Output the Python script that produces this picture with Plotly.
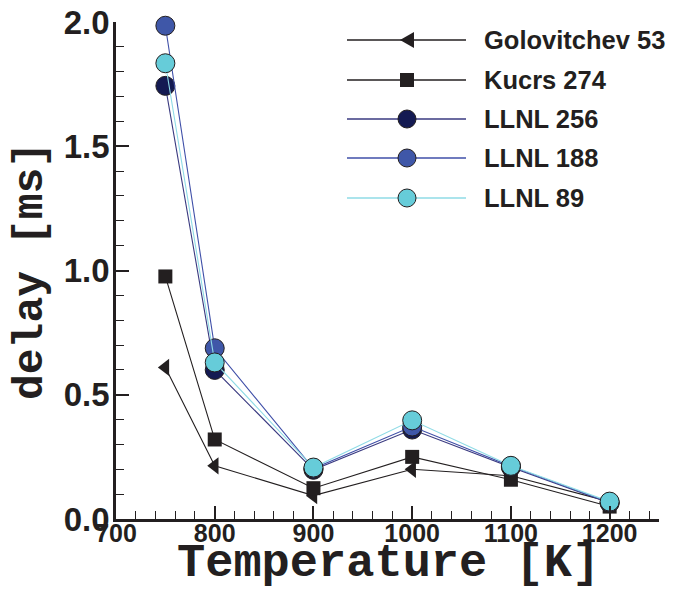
import plotly.graph_objects as go

temperature = [750, 800, 900, 1000, 1100, 1200]
golovitchev_53 = [0.61, 0.214, 0.094, 0.20, 0.174, 0.07]
kucrs_274 = [0.976, 0.32, 0.124, 0.25, 0.158, 0.05]
llnl_256 = [1.743, 0.60, 0.198, 0.36, 0.208, 0.064]
llnl_188 = [1.985, 0.687, 0.203, 0.372, 0.212, 0.066]
llnl_89 = [1.834, 0.63, 0.207, 0.397, 0.214, 0.07]

series_names = ["Golovitchev 53", "Kucrs 274", "LLNL 256", "LLNL 188", "LLNL 89"]
series_values = [golovitchev_53, kucrs_274, llnl_256, llnl_188, llnl_89]
marker_symbols = ["triangle-left", "square", "circle", "circle", "circle"]
marker_colors = ["#231f20", "#231f20", "#141a52", "#3f57a8", "#66ccd9"]
line_colors = ["#231f20", "#231f20", "#3a3a80", "#3f4fa8", "#8fdbe6"]
marker_sizes = [15, 14, 19, 19, 19]

x_ticks = [700, 800, 900, 1000, 1100, 1200]
y_ticks = [0.0, 0.5, 1.0, 1.5, 2.0]
x_title = "Temperature [K]"
y_title = "delay [ms]"

W, H = 676, 591
L, R, T, B = 116, 17, 22, 72
pw, ph = W - L - R, H - T - B

fig = go.Figure()
for name, vals, sym, mc, lc, ms in zip(series_names, series_values, marker_symbols,
                                       marker_colors, line_colors, marker_sizes):
    is_circle = sym == "circle"
    fig.add_trace(go.Scatter(
        x=temperature, y=vals, name=name, mode="lines+markers",
        line=dict(color=lc, width=1.1),
        marker=dict(symbol=sym, size=ms, color=mc,
                    line=dict(color="#231f20", width=1 if is_circle else 0)),
        showlegend=False,
        cliponaxis=False,
    ))

def px_to_paper_x(px):
    return (px - L) / pw

def px_to_paper_y(py):
    return (H - B - py) / ph

# custom legend (long line samples like the reference)
row_y = [40, 80, 119, 158, 198]
shapes = []
annotations = []
for i, (name, sym, mc, lc, ms) in enumerate(zip(series_names, marker_symbols,
                                                marker_colors, line_colors, marker_sizes)):
    yp = px_to_paper_y(row_y[i])
    shapes.append(dict(type="line", xref="paper", yref="paper",
                       x0=px_to_paper_x(347), x1=px_to_paper_x(466), y0=yp, y1=yp,
                       line=dict(color=lc, width=1.3)))
    xa = px_to_paper_x(407)
    if sym == "circle":
        r = 9
        shapes.append(dict(type="circle", xref="paper", yref="paper",
                           xsizemode="pixel", ysizemode="pixel", xanchor=xa, yanchor=yp,
                           x0=-r, x1=r, y0=-r, y1=r, fillcolor=mc,
                           line=dict(color="#231f20", width=1)))
    elif sym == "square":
        s = 7
        shapes.append(dict(type="rect", xref="paper", yref="paper",
                           xsizemode="pixel", ysizemode="pixel", xanchor=xa, yanchor=yp,
                           x0=-s, x1=s, y0=-s, y1=s, fillcolor=mc,
                           line=dict(color=mc, width=0)))
    else:
        shapes.append(dict(type="path", xref="paper", yref="paper",
                           xsizemode="pixel", ysizemode="pixel", xanchor=xa, yanchor=yp,
                           path="M -7 0 L 7 8 L 7 -8 Z", fillcolor=mc,
                           line=dict(color=mc, width=0)))
    annotations.append(dict(text="<b>%s</b>" % name, xref="paper", yref="paper",
                            x=px_to_paper_x(482), y=yp, xanchor="left", yanchor="middle",
                            showarrow=False,
                            font=dict(family="Liberation Sans, Arial, sans-serif",
                                      size=25.5, color="#231f20")))

title_font = "Courier New, Liberation Mono, monospace"
annotations.append(dict(text="<b>%s</b>" % x_title, xref="paper", yref="paper",
                        x=px_to_paper_x(388), y=px_to_paper_y(563),
                        xanchor="center", yanchor="middle", showarrow=False,
                        font=dict(family=title_font, size=47, color="#231f20")))
annotations.append(dict(text="<b>%s</b>" % y_title, xref="paper", yref="paper",
                        x=px_to_paper_x(30), y=px_to_paper_y(271), textangle=-90,
                        xanchor="center", yanchor="middle", showarrow=False,
                        font=dict(family=title_font, size=43, color="#231f20")))

axis_common = dict(
    showgrid=False, zeroline=False, showline=True, linecolor="#231f20", linewidth=2.5,
    ticks="inside", ticklen=13, tickwidth=2.2, tickcolor="#231f20", automargin=False,
)

fig.update_layout(
    width=W, height=H,
    margin=dict(l=L, r=R, t=T, b=B),
    paper_bgcolor="white", plot_bgcolor="white",
    showlegend=False,
    shapes=shapes,
    annotations=annotations,
    xaxis=dict(
        range=[700, 1250], tickvals=x_ticks, ticktext=[str(v) for v in x_ticks],
        minor=dict(ticks="inside", dtick=20, ticklen=8, tickwidth=1.3, tickcolor="#231f20"),
        tickfont=dict(family="Liberation Sans, Arial, sans-serif", size=25, color="#231f20",
                      weight="bold"),
        ticklabelstandoff=-10,
        **axis_common,
    ),
    yaxis=dict(
        range=[0, 2.0], tickvals=y_ticks, ticktext=["%.1f" % v for v in y_ticks],
        minor=dict(ticks="inside", dtick=0.1, ticklen=8, tickwidth=1.3, tickcolor="#231f20"),
        tickfont=dict(family="Liberation Sans, Arial, sans-serif", size=33, color="#231f20",
                      weight="bold"),
        ticklabelstandoff=-3,
        **axis_common,
    ),
)

fig.write_html("out.html", config={"displayModeBar": False},
               post_script="document.body.style.margin='0px';")
